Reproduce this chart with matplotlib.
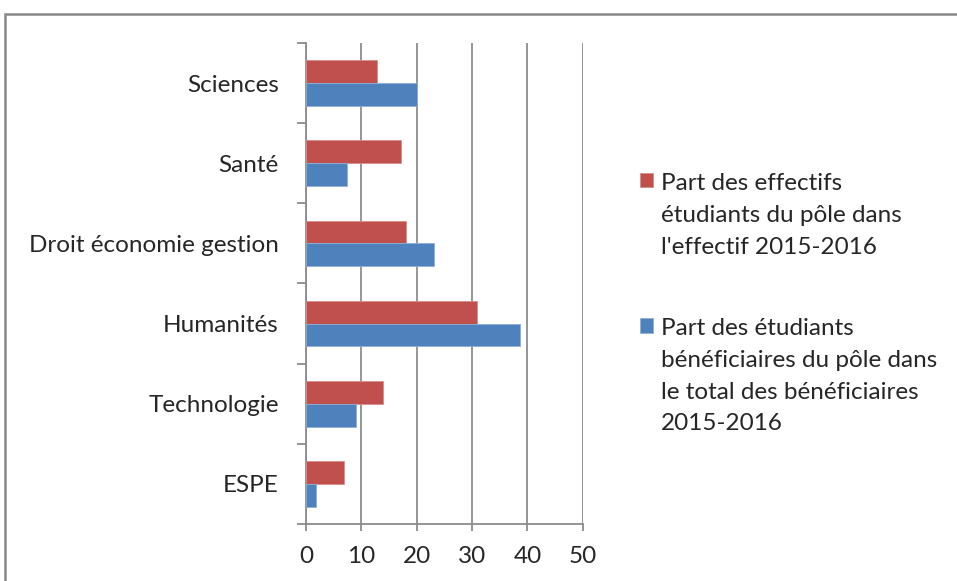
import matplotlib

matplotlib.use("Agg")
import matplotlib.pyplot as plt
import numpy as np
from matplotlib.patches import Rectangle

# categories listed top to bottom as in the chart
poles = ["Sciences", "Santé", "Droit économie gestion", "Humanités", "Technologie", "ESPE"]
part_effectifs = [12.9, 17.1, 18.0, 30.9, 14.0, 6.9]
part_beneficiaires = [20.0, 7.5, 23.1, 38.6, 9.0, 1.9]
x_ticks = [0, 10, 20, 30, 40, 50]
label_effectifs = "Part des effectifs\nétudiants du pôle dans\nl'effectif 2015-2016"
label_benef = "Part des étudiants\nbénéficiaires du pôle dans\nle total des bénéficiaires\n2015-2016"

RED = "#C0504D"
BLUE = "#4F81BD"
GRID = "#8C8C8C"
FS = 17.5

plt.rcParams["font.family"] = ["Lato", "DejaVu Sans"]
plt.rcParams["font.size"] = FS

fig = plt.figure(figsize=(9.57, 5.81), dpi=100)
ax = fig.add_axes([0.3197, 0.0981, 0.2892, 0.8279])

n = len(poles)
y = np.arange(n)[::-1]  # first category at the top
h = 0.285
ax.barh(y + h / 2, part_effectifs, height=h, color=RED, edgecolor="#D98C8A", lw=0.6,
        label=label_effectifs, zorder=3)
ax.barh(y - h / 2, part_beneficiaires, height=h, color=BLUE, edgecolor="#8DAFD6", lw=0.6,
        label=label_benef, zorder=3)

ax.set_xlim(0, 50)
ax.set_ylim(-0.5, n - 0.5)
ax.set_xticks(x_ticks)
ax.set_yticks(y)
ax.set_yticklabels(poles)
ax.set_yticks(np.arange(n + 1) - 0.5, minor=True)
ax.tick_params(axis="y", which="major", length=0, pad=19.5, labelsize=FS, colors="#262626")
ax.tick_params(axis="y", which="minor", length=6.5, width=1.3, color=GRID)
ax.tick_params(axis="x", length=5, width=1.3, color=GRID, labelsize=FS, labelcolor="#262626", pad=11)

ax.xaxis.grid(True, color=GRID, lw=1.3, zorder=0)
for s in ["top", "right"]:
    ax.spines[s].set_visible(False)
for s in ["left", "bottom"]:
    ax.spines[s].set_color(GRID)
    ax.spines[s].set_linewidth(1.3)

leg = ax.legend(loc="upper left", bbox_to_anchor=(628 / 957, 1 - 161 / 581),
                bbox_transform=fig.transFigure, frameon=False, borderpad=0,
                handlelength=0.53, handleheight=0.53, handletextpad=0.33,
                labelspacing=2.5, fontsize=FS)
for t in leg.get_texts():
    t.set_color("#262626")
    t.set_linespacing(1.63)
# put each legend square on the first line of its label
for col in leg._legend_handle_box.get_children():
    for item in col.get_children():
        item.align = "top"

# outer chart border
fig.patches.append(Rectangle((5 / 957, -0.05), 1.1, 0.05 + 1 - 14 / 581, transform=fig.transFigure,
                             fill=False, edgecolor="#888888", lw=1.8))

fig.savefig("out.png", dpi=100)
